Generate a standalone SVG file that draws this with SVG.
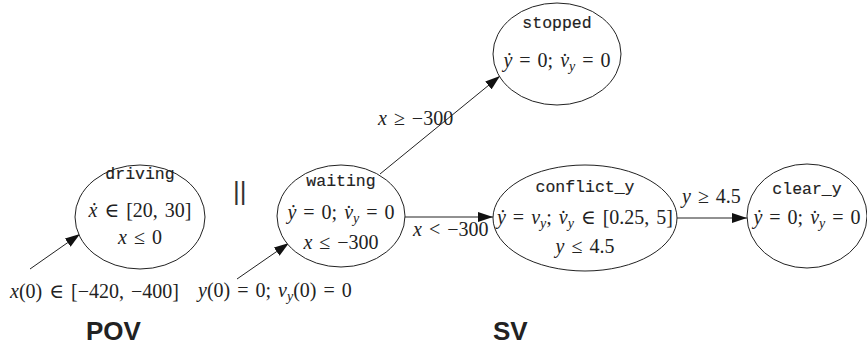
<svg xmlns="http://www.w3.org/2000/svg" width="867" height="350" viewBox="0 0 867 350">
<style>
.n{fill:#fff;stroke:#222;stroke-width:1}
.e{stroke:#222;stroke-width:1;fill:none;marker-end:url(#ah)}
.m{font-family:"Liberation Serif","DejaVu Serif",serif;font-size:20px;fill:#222;word-spacing:2px}
.i{font-style:italic}
.s{font-size:14px;font-style:italic}
.t{font-family:"Liberation Mono","DejaVu Sans Mono",monospace;font-size:16.5px;fill:#222;stroke:#222;stroke-width:0.15}
.b{font-family:"Liberation Sans",Arial,sans-serif;font-weight:bold;font-size:26px;fill:#222}
.p{font-family:"Liberation Sans",Arial,sans-serif;font-size:26px;fill:#333;letter-spacing:0px}
</style>
<defs>
<marker id="ah" markerUnits="userSpaceOnUse" markerWidth="16" markerHeight="10" refX="15" refY="5" orient="auto">
<path d="M0,0 L15,5 L0,10 z" fill="#111"/>
</marker>
</defs>
<rect width="867" height="350" fill="#fff"/>
<g id="connectors">
<line class="e" x1="30" y1="269" x2="80" y2="234"/>
<line class="e" x1="237" y1="279" x2="289" y2="243"/>
<line class="e" x1="380" y1="174" x2="500" y2="76"/>
<line class="e" x1="405" y1="217" x2="493" y2="217"/>
<line class="e" x1="677" y1="218" x2="747" y2="218"/>
<text class="m" x="10" y="298"><tspan class="i">x</tspan>(0) ∈ [−420, −400]</text>
<text class="m" x="198" y="297"><tspan class="i">y</tspan>(0) = 0; <tspan class="i">v</tspan><tspan class="s" dy="4">y</tspan><tspan dy="-4">(0) = 0</tspan></text>
<text class="m" x="378" y="125"><tspan class="i">x</tspan> ≥ −300</text>
<text class="m" x="413" y="236"><tspan class="i">x</tspan> &lt; −300</text>
<text class="m" x="682" y="203"><tspan class="i">y</tspan> ≥ 4.5</text>
</g>
<g id="driving">
<ellipse class="n" cx="140" cy="217" rx="65" ry="52"/>
<text class="t" x="140" y="179" text-anchor="middle">driving</text>
<text class="m" x="140" y="217" text-anchor="middle"><tspan class="i">ẋ</tspan> ∈ [20, 30]</text>
<text class="m" x="140" y="244" text-anchor="middle"><tspan class="i">x</tspan> ≤ 0</text>
</g>
<text class="p" x="233" y="200">||</text>
<g id="waiting">
<ellipse class="n" cx="341" cy="216" rx="64" ry="51"/>
<text class="t" x="341" y="186" text-anchor="middle">waiting</text>
<text class="m" x="341" y="219" text-anchor="middle"><tspan class="i">ẏ</tspan> = 0; <tspan class="i">v̇</tspan><tspan class="s" dy="4">y</tspan><tspan dy="-4"> = 0</tspan></text>
<text class="m" x="341" y="249" text-anchor="middle"><tspan class="i">x</tspan> ≤ −300</text>
</g>
<g id="stopped">
<ellipse class="n" cx="557" cy="54" rx="64" ry="51"/>
<text class="t" x="557" y="28" text-anchor="middle">stopped</text>
<text class="m" x="557" y="67" text-anchor="middle"><tspan class="i">ẏ</tspan> = 0; <tspan class="i">v̇</tspan><tspan class="s" dy="4">y</tspan><tspan dy="-4"> = 0</tspan></text>
</g>
<g id="conflict_y">
<ellipse class="n" cx="585" cy="218" rx="92" ry="53"/>
<text class="t" x="585" y="192" text-anchor="middle">conflict_y</text>
<text class="m" x="585" y="224" text-anchor="middle"><tspan class="i">ẏ</tspan> = <tspan class="i">v</tspan><tspan class="s" dy="4">y</tspan><tspan dy="-4">; </tspan><tspan class="i">v̇</tspan><tspan class="s" dy="4">y</tspan><tspan dy="-4"> ∈ [0.25, 5]</tspan></text>
<text class="m" x="585" y="253" text-anchor="middle"><tspan class="i">y</tspan> ≤ 4.5</text>
</g>
<g id="clear_y">
<ellipse class="n" cx="807" cy="216" rx="60" ry="52"/>
<text class="t" x="807" y="194" text-anchor="middle">clear_y</text>
<text class="m" x="807" y="224" text-anchor="middle"><tspan class="i">ẏ</tspan> = 0; <tspan class="i">v̇</tspan><tspan class="s" dy="4">y</tspan><tspan dy="-4"> = 0</tspan></text>
</g>
<text class="b" x="86" y="340">POV</text>
<text class="b" x="493" y="340">SV</text>
</svg>
